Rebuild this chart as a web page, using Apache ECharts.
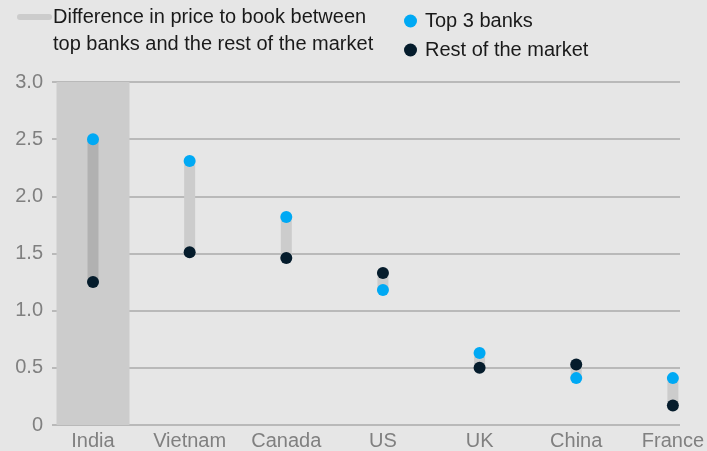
<!DOCTYPE html>
<html>
<head>
<meta charset="utf-8">
<title>Price to book</title>
<script src="https://cdn.jsdelivr.net/npm/echarts@6/dist/echarts.min.js"></script>
<style>
  html, body { margin: 0; padding: 0; background: #e6e6e6; }
  #main { width: 707px; height: 451px; }
</style>
</head>
<body>
<div id="main"></div>
<script type="text/javascript">
// data
var countries = ['India', 'Vietnam', 'Canada', 'US', 'UK', 'China', 'France'];
var top3Banks = [2.50, 2.31, 1.82, 1.18, 0.63, 0.41, 0.41];
var restOfMarket = [1.25, 1.51, 1.46, 1.33, 0.50, 0.53, 0.17];
var highlighted = ['India'];
var yTicks = [0, 0.5, 1.0, 1.5, 2.0, 2.5, 3.0];

var yMax = yTicks[yTicks.length - 1];
var rangeBase = top3Banks.map(function (v, i) { return Math.min(v, restOfMarket[i]); });
var rangeDiff = top3Banks.map(function (v, i) { return Math.abs(v - restOfMarket[i]); });

var labelFont = { fontFamily: 'Liberation Sans', fontSize: 20, color: '#808080' };

var chart = echarts.init(document.getElementById('main'));
var option = {
  backgroundColor: '#e6e6e6',
  textStyle: { fontFamily: 'Liberation Sans' },
  animation: false,
  grid: [
    { left: 52, right: 27, top: 82, bottom: 26 },
    { left: 93, right: 33, top: 82, bottom: 26 }
  ],
  xAxis: [
    { type: 'value', gridIndex: 0, show: false, min: 0, max: 1 },
    {
      type: 'category', gridIndex: 1, data: countries, boundaryGap: false,
      axisLine: { show: false }, axisTick: { show: false },
      axisLabel: Object.assign({ margin: 6, interval: 0 }, labelFont)
    },
    { type: 'category', gridIndex: 1, data: countries, boundaryGap: false, show: false }
  ],
  yAxis: [
    {
      type: 'value', gridIndex: 0, min: 0, max: yMax, interval: 0.5,
      axisLine: { show: false }, axisTick: { show: false },
      axisLabel: Object.assign({
        margin: 9,
        formatter: function (v) { return v === 0 ? '0' : v.toFixed(1); }
      }, labelFont),
      splitLine: { lineStyle: { color: '#aaaaaa', width: 1.5 } }
    },
    { type: 'value', gridIndex: 1, min: 0, max: yMax, show: false }
  ],
  legend: {
    orient: 'vertical', left: 399, top: 5,
    icon: 'circle', itemWidth: 13, itemHeight: 13, itemGap: 7,
    data: ['Top 3 banks', 'Rest of the market'],
    textStyle: {
      fontFamily: 'Liberation Sans', fontSize: 20, color: '#1a1a1a', lineHeight: 22,
      padding: [0, 0, 0, 3]
    }
  },
  graphic: [
    { type: 'rect', left: 17, top: 14, shape: { width: 35, height: 6, r: 3 }, style: { fill: '#cccccc' } },
    {
      type: 'text', left: 53, top: 4,
      style: {
        text: 'Difference in price to book between\ntop banks and the rest of the market',
        fontFamily: 'Liberation Sans', fontSize: 20, lineHeight: 27, fill: '#1a1a1a'
      }
    }
  ],
  series: [
    {
      name: 'band', type: 'bar', xAxisIndex: 2, yAxisIndex: 1, barWidth: 73, clip: false, z: 1,
      silent: true,
      data: countries.map(function (c) { return highlighted.indexOf(c) >= 0 ? yMax : 0; }),
      itemStyle: { color: '#cccccc' }
    },
    {
      name: 'base', type: 'bar', xAxisIndex: 1, yAxisIndex: 1, stack: 'r', barWidth: 11, clip: false, z: 2,
      silent: true, data: rangeBase, itemStyle: { color: 'transparent' }
    },
    {
      name: 'diff', type: 'bar', xAxisIndex: 1, yAxisIndex: 1, stack: 'r', barWidth: 11, clip: false, z: 2,
      silent: true,
      data: rangeDiff.map(function (v, i) {
        return { value: v, itemStyle: { color: highlighted.indexOf(countries[i]) >= 0 ? '#b1b1b1' : '#cccccc' } };
      })
    },
    {
      name: 'Top 3 banks', type: 'scatter', xAxisIndex: 1, yAxisIndex: 1, symbolSize: 12, clip: false, z: 3,
      data: top3Banks, itemStyle: { color: '#00a9f4', opacity: 1 }
    },
    {
      name: 'Rest of the market', type: 'scatter', xAxisIndex: 1, yAxisIndex: 1, symbolSize: 12, clip: false, z: 3,
      data: restOfMarket, itemStyle: { color: '#051c2c', opacity: 1 }
    }
  ]
};
chart.setOption(option);
</script>
</body>
</html>
